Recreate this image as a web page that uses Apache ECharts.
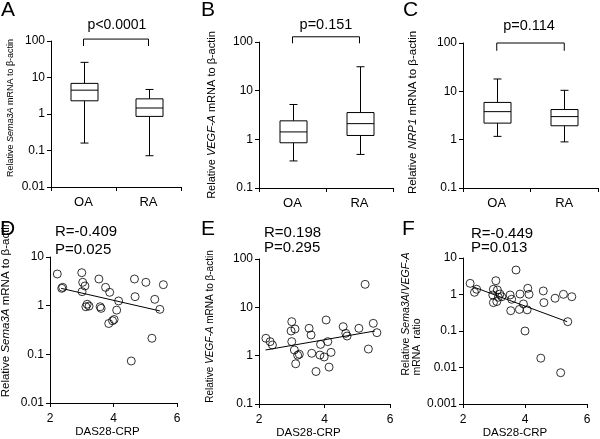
<!DOCTYPE html>
<html>
<head>
<meta charset="utf-8">
<title>Sema3A, VEGF-A and NRP1 expression</title>
<script src="https://cdn.jsdelivr.net/npm/echarts@6/dist/echarts.min.js"></script>
<style>
  html, body { margin: 0; padding: 0; background: #fff; }
  #chart { width: 600px; height: 439px; }
</style>
</head>
<body>
<div id="chart"></div>
<script>
// ---- data ----
const groups = ['OA', 'RA'];

// box plots: [min, Q1, median, Q3, max]
const sema3aOA = [0.16, 2.3, 4.5, 6.9, 26];
const sema3aRA = [0.072, 0.86, 1.46, 2.6, 4.7];
const vegfOA = [0.36, 0.85, 1.42, 2.4, 5.2];
const vegfRA = [0.49, 1.2, 2.1, 3.55, 31];
const nrp1OA = [1.17, 2.2, 3.8, 5.9, 18];
const nrp1RA = [0.9, 1.94, 3.0, 4.2, 10.5];

const pLabels = ['p<0.0001', 'p=0.151', 'p=0.114'];
// significance brackets: [leg bottom, bar top]
const bracketA = [73, 113];
const bracketB = [94, 128];
const bracketC = [69, 100];

// DAS28-CRP correlations
const dasD = [2.23, 2.40, 2.37, 3.00, 3.03, 3.10, 3.01, 3.17, 3.23, 3.13, 3.54, 3.75, 3.88, 3.58, 3.61,
  4.16, 4.10, 4.02, 3.97, 3.85, 4.66, 5.02, 5.57, 4.68, 5.30, 5.46, 5.21, 4.56];
const sema3aD = [4.48, 2.38, 2.27, 4.76, 3.02, 2.54, 1.94, 1.07, 0.98, 0.95, 3.53, 2.38, 1.88, 0.95, 0.88,
  1.25, 0.81, 0.52, 0.49, 0.43, 3.53, 3.02, 2.70, 1.53, 1.35, 0.84, 0.214, 0.073];
const fitD = [[2.35, 2.27], [5.46, 0.78]];

const dasE = [2.21, 2.34, 2.41, 3.00, 2.98, 3.10, 3.00, 3.08, 3.18, 3.23, 3.12, 3.53, 3.59, 3.61, 3.74,
  3.88, 3.86, 3.99, 4.05, 4.10, 4.20, 4.14, 4.57, 4.65, 4.69, 5.05, 5.24, 5.49, 5.60, 5.34];
const vegfE = [2.29, 1.95, 1.66, 5.05, 3.24, 3.56, 1.95, 1.31, 1.02, 1.07, 0.68, 3.68, 2.68, 1.12, 0.47,
  1.71, 1.03, 0.94, 5.47, 1.95, 1.17, 0.58, 3.98, 2.9, 2.55, 3.68, 29.9, 4.67, 2.99, 1.37];
const fitE = [[2.20, 1.31], [5.54, 3.24]];

const dasF = [2.23, 2.37, 2.44, 3.06, 2.98, 3.11, 2.96, 3.19, 3.14, 2.98, 3.09, 3.25, 3.71, 3.52, 3.57, 3.54,
  3.84, 3.82, 3.95, 4.07, 4.09, 4.13, 4.00, 4.59, 4.61, 4.97, 5.24, 5.51, 5.38, 4.51, 5.15];
const ratioF = [2.02, 1.15, 1.39, 2.39, 1.39, 1.33, 0.97, 1.03, 0.84, 0.60, 0.64, 0.87, 4.69, 0.97, 0.74, 0.36,
  1.03, 0.39, 0.55, 0.38, 1.48, 1.01, 0.10, 1.25, 0.60, 0.79, 1.01, 0.87, 0.18, 0.018, 0.0072];
const fitF = [[2.31, 1.64], [5.36, 0.18]];

const statsD = 'R=-0.409\nP=0.025';
const statsE = 'R=0.198\nP=0.295';
const statsF = 'R=-0.449\nP=0.013';

// ---- helpers ----
const font = '"Liberation Sans", Arial, sans-serif';
const black = '#000';

function zip(xs, ys) {
  return xs.map((x, i) => [x, ys[i]]);
}

function nameRich(size) {
  return {
    n: { fontSize: size, fontFamily: font, color: black },
    i: { fontSize: size, fontFamily: font, color: black, fontStyle: 'italic' },
    m: { fontSize: size, fontFamily: font, color: black, align: 'left' }
  };
}

function logAxis(gi, min, max, name, size, gap, shiftUp) {
  return {
    type: 'log', logBase: 10, gridIndex: gi, min: min, max: max,
    name: name, nameLocation: 'middle', nameRotate: 90, nameGap: gap,
    nameTextStyle: { padding: [0, 0, 0, shiftUp * 2], rich: nameRich(size) },
    axisLine: { show: true, lineStyle: { color: black, width: 1 } },
    axisTick: { show: true, length: 4, lineStyle: { color: black } },
    axisLabel: {
      color: black, fontSize: 12, fontFamily: font, margin: 6,
      formatter: v => String(Number(v.toPrecision(4)))
    },
    splitLine: { show: false }
  };
}

function catAxis(gi) {
  return {
    type: 'category', gridIndex: gi, data: groups, boundaryGap: true,
    axisLine: { show: true, lineStyle: { color: black, width: 1 } },
    axisTick: { show: true, length: 4, lineStyle: { color: black } },
    axisLabel: { color: black, fontSize: 13, fontFamily: font, margin: 9 },
    splitLine: { show: false }
  };
}

function dasAxis(gi, shiftLeft) {
  return {
    type: 'value', gridIndex: gi, min: 2, max: 6, interval: 2,
    name: 'DAS28-CRP', nameLocation: 'middle', nameGap: 22,
    nameTextStyle: { color: black, fontSize: 11.5, fontFamily: font, padding: [0, shiftLeft * 2, 0, 0] },
    axisLine: { show: true, onZero: false, lineStyle: { color: black, width: 1 } },
    axisTick: { show: true, length: 4, lineStyle: { color: black } },
    axisLabel: { color: black, fontSize: 12, fontFamily: font, margin: 10 },
    splitLine: { show: false }
  };
}

function renderBox(params, api) {
  const x = api.value(0);
  const lo = api.coord([x, api.value(1)]);
  const q1 = api.coord([x, api.value(2)]);
  const med = api.coord([x, api.value(3)]);
  const q3 = api.coord([x, api.value(4)]);
  const hi = api.coord([x, api.value(5)]);
  const cx = Math.round(med[0]) + 0.5;
  const hw = 13.5, cw = 4;
  const st = { stroke: black, lineWidth: 1, fill: null };
  return {
    type: 'group',
    children: [
      { type: 'line', shape: { x1: cx, y1: q3[1], x2: cx, y2: hi[1] }, style: st },
      { type: 'line', shape: { x1: cx - cw, y1: hi[1], x2: cx + cw, y2: hi[1] }, style: st },
      { type: 'line', shape: { x1: cx, y1: q1[1], x2: cx, y2: lo[1] }, style: st },
      { type: 'line', shape: { x1: cx - cw, y1: lo[1], x2: cx + cw, y2: lo[1] }, style: st },
      { type: 'rect', shape: { x: cx - hw, y: q3[1], width: hw * 2, height: q1[1] - q3[1] },
        style: { stroke: black, lineWidth: 1, fill: '#fff' } },
      { type: 'line', shape: { x1: cx - hw, y1: med[1], x2: cx + hw, y2: med[1] }, style: st }
    ]
  };
}

function boxSeries(gi, a, b) {
  return {
    type: 'custom', xAxisIndex: gi, yAxisIndex: gi,
    renderItem: renderBox,
    encode: { x: 0, y: [1, 2, 3, 4, 5] },
    data: [[0].concat(a), [1].concat(b)],
    silent: true
  };
}

function bracketSeries(gi, br) {
  return {
    type: 'line', xAxisIndex: gi, yAxisIndex: gi, clip: false, silent: true,
    symbol: 'none', lineStyle: { color: black, width: 1 },
    data: [[groups[0], br[0]], [groups[0], br[1]], [groups[1], br[1]], [groups[1], br[0]]]
  };
}

function scatterSeries(gi, xs, ys) {
  return {
    type: 'scatter', xAxisIndex: gi, yAxisIndex: gi, symbol: 'circle', symbolSize: 8,
    itemStyle: { color: 'rgba(0,0,0,0)', borderColor: black, borderWidth: 1 },
    data: zip(xs, ys), silent: true
  };
}

function fitSeries(gi, pts) {
  return {
    type: 'line', xAxisIndex: gi, yAxisIndex: gi, symbol: 'none', silent: true,
    lineStyle: { color: black, width: 1 }, data: pts
  };
}

function label(text, left, top, size, extra) {
  return Object.assign({
    text: text, left: left, top: top, padding: 0,
    textStyle: { color: black, fontSize: size, fontWeight: 'normal', fontFamily: font }
  }, extra || {});
}

const nameSema = '{n|Relative }{i|Sema3A}{n| mRNA to β-actin}';
const nameVegf = '{n|Relative }{i|VEGF-A}{n| mRNA to β-actin}';
const nameNrp1 = '{n|Relative }{i|NRP1}{n| mRNA to β-actin}';
const nameRatio = '{n|Relative }{i|Sema3A}{n|/}{i|VEGF-A}\n{m|mRNA  ratio}';

const chart = echarts.init(document.getElementById('chart'));

chart.setOption({
  backgroundColor: '#fff',
  animation: false,
  title: [
    label('A', 1, 0, 21), label('B', 201, 0, 21), label('C', 403, 0, 21),
    label('D', 0, 219, 21), label('E', 201, 219, 21), label('F', 402, 219, 21),
    label(pLabels[0], 117, 18, 14, { textAlign: 'center' }),
    label(pLabels[1], 326, 17, 14.5, { textAlign: 'center' }),
    label(pLabels[2], 529, 18, 14.5, { textAlign: 'center' }),
    { text: statsD, left: 55, top: 223, padding: 0,
      textStyle: { color: black, fontSize: 15, fontWeight: 'normal', fontFamily: font, lineHeight: 18 } },
    { text: statsE, left: 264, top: 225, padding: 0,
      textStyle: { color: black, fontSize: 15, fontWeight: 'normal', fontFamily: font, lineHeight: 15.5 } },
    { text: statsF, left: 471, top: 227, padding: 0,
      textStyle: { color: black, fontSize: 15, fontWeight: 'normal', fontFamily: font, lineHeight: 14 } }
  ],
  grid: [
    { left: 51, top: 41, width: 130, height: 146, outerBoundsMode: 'none' },
    { left: 259, top: 42, width: 134, height: 146, outerBoundsMode: 'none' },
    { left: 463, top: 43, width: 135, height: 145, outerBoundsMode: 'none' },
    { left: 50, top: 257, width: 127, height: 146, outerBoundsMode: 'none' },
    { left: 259, top: 259, width: 131, height: 145, outerBoundsMode: 'none' },
    { left: 463, top: 258, width: 124, height: 146, outerBoundsMode: 'none' }
  ],
  xAxis: [
    catAxis(0), catAxis(1), catAxis(2),
    dasAxis(3, 6), dasAxis(4, 16), dasAxis(5, 10)
  ],
  yAxis: [
    logAxis(0, 0.01, 100, nameSema, 9, 36, 6),
    logAxis(1, 0.1, 100, nameVegf, 11, 42, 0),
    logAxis(2, 0.1, 100, nameNrp1, 11.5, 44, 3),
    logAxis(3, 0.01, 10, nameSema, 11.5, 38, 21),
    logAxis(4, 0.1, 100, nameVegf, 10, 44, 5),
    logAxis(5, 0.001, 10, nameRatio, 10.5, 38, 17)
  ],
  series: [
    boxSeries(0, sema3aOA, sema3aRA), bracketSeries(0, bracketA),
    boxSeries(1, vegfOA, vegfRA), bracketSeries(1, bracketB),
    boxSeries(2, nrp1OA, nrp1RA), bracketSeries(2, bracketC),
    fitSeries(3, fitD), scatterSeries(3, dasD, sema3aD),
    fitSeries(4, fitE), scatterSeries(4, dasE, vegfE),
    fitSeries(5, fitF), scatterSeries(5, dasF, ratioF)
  ]
});
</script>
</body>
</html>
